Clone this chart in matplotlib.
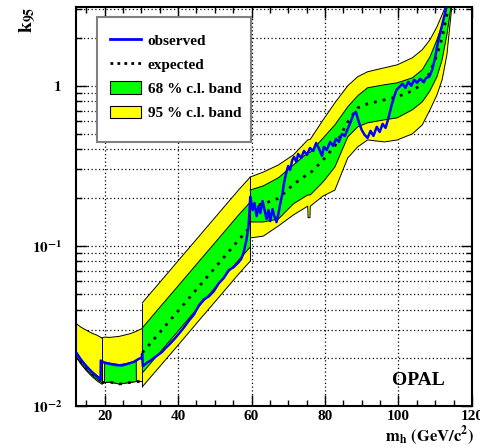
import matplotlib
matplotlib.use("Agg")
import matplotlib.pyplot as plt
from matplotlib.lines import Line2D
from matplotlib.patches import Patch, Rectangle
from matplotlib.ticker import MultipleLocator, LogLocator, NullFormatter

plt.rcParams["font.family"] = "Liberation Serif"
plt.rcParams["font.weight"] = "bold"
plt.rcParams["mathtext.fontset"] = "stix"

# ---- data, split in the four mass regions ----
# region 1 (below 19 GeV)
r1_mass = [12.0, 13.5, 15.0, 16.5, 18.0, 19.2]
r1_y95_hi = [0.0330, 0.0311, 0.0297, 0.0285, 0.0276, 0.0266]
r1_y68_hi = [0.0222, 0.0197, 0.0179, 0.0165, 0.0154, 0.0148]
r1_exp = [0.0214, 0.0191, 0.0173, 0.0160, 0.0150, 0.0143]
r1_y68_lo = [0.0208, 0.0186, 0.0169, 0.0156, 0.0146, 0.0140]
r1_y95_lo = [0.0205, 0.0183, 0.0166, 0.0153, 0.0143, 0.0137]

# region 2 (19 - 30 GeV)
r2_mass = [19.2, 19.95, 20.0, 21.4, 24.0, 26.8, 28.6, 28.65, 30.3]
r2_y95_hi = [0.0266, 0.0269, 0.0269, 0.0268, 0.0272, 0.0282, 0.0292, 0.0293, 0.0305]
r2_y68_hi = [0.0140, 0.0140, 0.0188, 0.0185, 0.0181, 0.0185, 0.0192, 0.0142, 0.0142]
r2_exp = [0.0140, 0.0140, 0.0140, 0.0141, 0.0137, 0.0140, 0.0142, 0.0142, 0.0142]
r2_y68_lo = [0.0140, 0.0140, 0.0140, 0.0141, 0.0137, 0.0140, 0.0142, 0.0142, 0.0142]
r2_y95_lo = [0.0140, 0.0140, 0.0140, 0.0141, 0.0137, 0.0140, 0.0142, 0.0142, 0.0142]

# region 3 (30 - 60 GeV)
r3_mass = [30.3, 34.9, 40.3, 45.7, 51.1, 56.5, 59.6]
r3_y95_hi = [0.0442, 0.0587, 0.0821, 0.1147, 0.1603, 0.2239, 0.268]
r3_y68_hi = [0.0308, 0.0410, 0.0572, 0.0800, 0.1117, 0.1562, 0.187]
r3_exp = [0.0215, 0.0286, 0.0399, 0.0558, 0.0779, 0.1089, 0.131]
r3_y68_lo = [0.0161, 0.0214, 0.0299, 0.0418, 0.0584, 0.0816, 0.098]
r3_y95_lo = [0.0132, 0.0175, 0.0244, 0.0342, 0.0477, 0.0667, 0.080]

# region 4 (above 60 GeV)
r4_mass = [59.6, 63.2, 67.3, 71.4, 75.3, 75.4, 75.9, 76.0, 79.5, 82.7, 86.2,
           88.9, 91.6, 96.2, 99.7, 103.8, 106.5, 108.6, 110.5, 111.9, 113.2, 114.6]
r4_y95_hi = [0.269, 0.289, 0.320, 0.370, 0.459, 0.460, 0.462, 0.463, 0.613, 0.783, 1.000,
             1.139, 1.224, 1.296, 1.353, 1.497, 1.681, 1.941, 2.341, 2.784, 3.31, 3.99]
r4_y68_hi = [0.223, 0.237, 0.266, 0.320, 0.381, 0.382, 0.383, 0.384, 0.472, 0.570, 0.739,
             0.866, 0.972, 1.015, 1.044, 1.122, 1.259, 1.519, 1.941, 2.410, 3.078, 3.99]
r4_exp = [0.177, 0.183, 0.198, 0.242, 0.281, 0.282, 0.284, 0.285, 0.344, 0.421, 0.595,
          0.728, 0.772, 0.817, 0.853, 0.931, 1.029, 1.206, 1.564, 1.998, 2.784, 3.99]
r4_y68_lo = [0.141, 0.141, 0.147, 0.183, 0.208, 0.208, 0.208, 0.208, 0.251, 0.311, 0.479,
             0.554, 0.587, 0.613, 0.631, 0.708, 0.794, 0.931, 1.139, 1.455, 2.086, 3.455]
r4_y95_lo = [0.112, 0.115, 0.133, 0.156, 0.177, 0.150, 0.150, 0.177, 0.205, 0.223, 0.354,
             0.415, 0.459, 0.446, 0.459, 0.501, 0.570, 0.708, 0.878, 1.090, 1.564, 3.216]

# observed limit, one continuous trace
obs_mass = [12.0, 13.5, 15.0, 16.5, 18.0, 18.9, 18.95, 20.0, 21.4, 23.0, 24.8, 26.5,
            27.9, 29.5, 30.1, 30.2, 30.4,
            31.5, 32.7, 34.0, 35.6, 36.6, 37.6, 39.0, 40.3, 41.5, 43.0, 44.3, 45.7,
            47.0, 48.4, 49.7, 51.1, 52.4, 53.8, 55.1, 56.5, 57.2, 57.8, 58.6, 59.2, 59.65,
            59.7, 60.3, 60.8, 61.4, 61.9, 62.4, 63.0, 63.5, 64.1, 64.6, 65.1, 65.7, 66.2,
            66.8, 67.3, 67.8, 68.4, 68.9, 69.5, 70.0, 70.5, 71.1, 71.6, 72.2, 72.7, 73.5,
            74.3, 75.1, 75.9, 76.8, 77.6, 78.4, 79.2, 79.7, 80.5, 81.4, 82.2, 83.0, 83.8,
            84.6, 85.4, 86.2, 87.0, 87.8, 88.4, 89.2, 90.0, 90.8, 91.6, 92.4, 93.2, 94.1,
            94.9, 95.7, 96.5, 97.3, 98.1, 98.9, 99.5, 100.3, 101.1, 101.9, 102.7, 103.5,
            104.3, 105.1, 105.9, 106.8, 107.6, 108.4, 109.2, 110.0, 110.8, 111.6, 112.4,
            113.2, 114.0]
obs_k95 = [0.0220, 0.0195, 0.0177, 0.0163, 0.0152, 0.0146, 0.0192, 0.0186, 0.0183, 0.0180,
           0.0179, 0.0184, 0.0188, 0.0198, 0.0198, 0.0212, 0.0177,
           0.0186, 0.0193, 0.0204, 0.0217, 0.0230, 0.0242, 0.0262, 0.0284, 0.0307, 0.0342,
           0.0372, 0.0425, 0.0462, 0.0484, 0.0520, 0.0584, 0.0628, 0.0705, 0.0735, 0.0790,
           0.0830, 0.0900, 0.1086, 0.1329, 0.2026,
           0.2018, 0.1673, 0.1851, 0.1535, 0.1772, 0.1603, 0.1905, 0.1697, 0.1470, 0.1673,
           0.1428, 0.1697, 0.1535, 0.1407, 0.1580, 0.1825, 0.2108, 0.2506, 0.2894, 0.3155,
           0.2979, 0.3440, 0.3592, 0.3342, 0.3751, 0.3540, 0.3917, 0.3697, 0.4090, 0.3917,
           0.4396, 0.4032, 0.3644, 0.4150, 0.3974, 0.4460, 0.4210, 0.4657, 0.4460, 0.5005,
           0.4863, 0.5380, 0.5952, 0.6680, 0.6875, 0.5952, 0.5303, 0.4933, 0.4724, 0.5227,
           0.4863, 0.5538, 0.5152, 0.5782, 0.5458, 0.6305, 0.7496, 0.8658, 0.9440, 0.9857,
           1.029, 0.9716, 1.059, 1.000, 1.090, 1.044, 1.106, 1.059, 1.122, 1.139, 1.259,
           1.497, 1.886, 2.242, 2.666, 3.216, 3.99]

regions = [
    (r1_mass, r1_y95_lo, r1_y95_hi, r1_y68_lo, r1_y68_hi, r1_exp),
    (r2_mass, r2_y95_lo, r2_y95_hi, r2_y68_lo, r2_y68_hi, r2_exp),
    (r3_mass, r3_y95_lo, r3_y95_hi, r3_y68_lo, r3_y68_hi, r3_exp),
    (r4_mass, r4_y95_lo, r4_y95_hi, r4_y68_lo, r4_y68_hi, r4_exp),
]

YELLOW = "#ffff00"
GREEN = "#00ff00"
BLUE = "#0000ff"


def band(ax, x, lo, hi, color, z):
    # filled band with a thin black outline, closed at both ends like ROOT does
    ax.fill_between(x, lo, hi, facecolor=color, edgecolor="none", zorder=z)
    ax.plot(x, hi, color="black", lw=0.7, zorder=z + 0.1)
    ax.plot(x, lo, color="black", lw=0.7, zorder=z + 0.1)
    ax.vlines([x[0], x[-1]], [lo[0], lo[-1]], [hi[0], hi[-1]],
              color="black", lw=0.7, zorder=z + 0.1)


fig = plt.figure(figsize=(4.81, 4.48), dpi=100)
ax = fig.add_axes([0.158, 0.094, 0.823, 0.890])

for m, y95lo, y95hi, y68lo, y68hi, ex in regions:
    band(ax, m, y95lo, y95hi, YELLOW, 1)
for m, y95lo, y95hi, y68lo, y68hi, ex in regions:
    band(ax, m, y68lo, y68hi, GREEN, 2)
for m, y95lo, y95hi, y68lo, y68hi, ex in regions:
    ax.plot(m, ex, color="black", lw=2.0, ls=(0, (1, 2.2)), zorder=3)

ax.plot(obs_mass, obs_k95, color=BLUE, lw=1.8, zorder=4)

ax.set_yscale("log")
ax.set_xlim(12.2, 120)
ax.set_ylim(0.01, 3.1)

ax.xaxis.set_major_locator(MultipleLocator(20))
ax.xaxis.set_minor_locator(MultipleLocator(5))
ax.set_xticks([20, 40, 60, 80, 100, 120])
ax.set_xticklabels(["20", "40", "60", "80", "100", "120"])
ax.set_yticks([0.01, 0.1, 1])
ax.set_yticklabels([r"$\mathbf{10^{-2}}$", r"$\mathbf{10^{-1}}$", r"$\mathbf{1}$"])
ax.yaxis.set_minor_locator(LogLocator(base=10, subs=[2, 3, 4, 5, 6, 7, 8, 9]))
ax.yaxis.set_minor_formatter(NullFormatter())

ax.tick_params(which="both", direction="in", top=True, right=True, width=1.0,
               labelsize=11)
ax.tick_params(which="major", length=8)
ax.tick_params(which="minor", length=4)
ax.tick_params(axis="x", pad=3)
ax.tick_params(axis="y", pad=10)
for s in ax.spines.values():
    s.set_linewidth(1.5)

ax.set_axisbelow(True)
ax.grid(which="major", axis="x", color="black", lw=0.9, ls=(0, (1, 2)))
ax.grid(which="both", axis="y", color="black", lw=0.9, ls=(0, (1, 2)))

# legend: grey box drawn by hand, entries on top
ax.add_patch(Rectangle((0.053, 0.662), 0.389, 0.313, transform=ax.transAxes,
                       facecolor="white", edgecolor="#808080", lw=1.5, zorder=5))
handles = [
    Line2D([], [], color=BLUE, lw=2),
    Line2D([], [], color="black", lw=2, ls=(0, (1, 1.5))),
    Patch(facecolor=GREEN, edgecolor="black", lw=0.8),
    Patch(facecolor=YELLOW, edgecolor="black", lw=0.8),
]
labels = ["observed", "expected", "68 % c.l. band", "95 % c.l. band"]
leg = ax.legend(handles, labels, loc="upper left", bbox_to_anchor=(0.087, 0.934),
                frameon=False, borderpad=0, borderaxespad=0, handlelength=2.0,
                handleheight=0.85, handletextpad=0.45, labelspacing=0.63,
                prop={"family": "Liberation Serif", "weight": "bold", "size": 11})
leg.set_zorder(6)

ax.text(0.865, 0.063, "OPAL", transform=ax.transAxes, ha="center", va="center",
        fontsize=14, fontweight="bold", zorder=6)

fig.text(0.058, 0.985, r"$\mathbf{k_{95}}$", rotation=90, ha="center", va="top",
         fontsize=14)
fig.text(0.985, 0.0, r"$\mathbf{m_h\ (GeV/c^2)}$", ha="right", va="bottom",
         fontsize=12)

fig.savefig("out.png", dpi=100)
